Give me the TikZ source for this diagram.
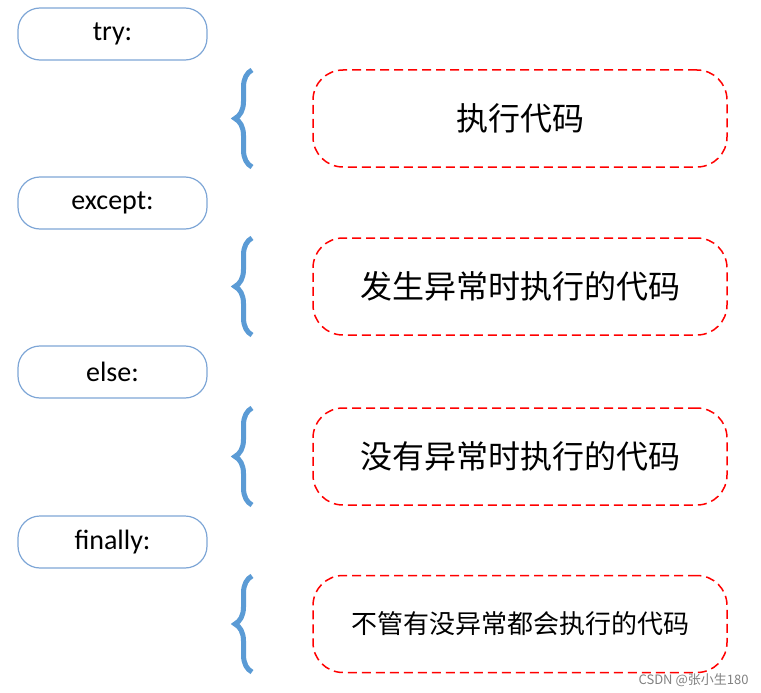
\documentclass[tikz,border=0pt]{standalone}
\usepackage{fontspec}
\setmainfont{Carlito}
\newfontfamily\cjk{Noto Sans CJK SC}
\usetikzlibrary{decorations.pathreplacing}
\definecolor{bblue}{HTML}{5B9BD5}
\definecolor{lblue}{HTML}{7EA6D6}
\begin{document}
\begin{tikzpicture}[x=1pt,y=-1pt,
  kw/.style={draw=lblue,line width=1.2pt,rounded corners=22pt,minimum width=189pt,minimum height=52pt,font=\fontsize{28}{30}\selectfont},
  body/.style={draw=red,dashed,dash pattern=on 9pt off 5pt,line width=1.5pt,rounded corners=30pt,minimum width=414pt,minimum height=97pt,font=\cjk\fontsize{32}{36}\selectfont},
  brc/.style={draw=bblue,line width=5pt,decorate,decoration={brace,amplitude=17pt}}]
\useasboundingbox (0,0) rectangle (761,693);
\node[kw] (k1) at (112.5,34) {try:};
\node[kw] (k2) at (112.5,203) {except:};
\node[kw] (k3) at (112.5,372) {else:};
\node[kw] (k4) at (112.5,542) {finally:};
\node[body] (b1) at (520,118.5) {执行代码};
\node[body] (b2) at (520,286.5) {发生异常时执行的代码};
\node[body] (b3) at (520,456.5) {没有异常时执行的代码};
\node[body,font=\cjk\fontsize{26}{30}\selectfont] (b4) at (520,624) {不管有没异常都会执行的代码};
\foreach \y/\h in {70/167,238/335,408/505,576/672}
  \draw[brc] (252,\h) -- (252,\y);
\node[text=gray,font=\cjk\fontsize{13}{14}\selectfont,anchor=south east] (wm) at (752,690) {CSDN @张小生180};
\end{tikzpicture}
\end{document}
